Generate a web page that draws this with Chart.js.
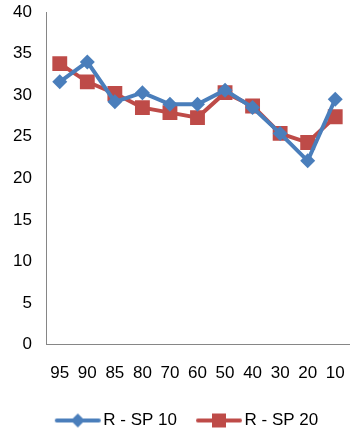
<!DOCTYPE html>
<html>
<head>
<meta charset="utf-8">
<script src="https://cdn.jsdelivr.net/npm/chart.js@4/dist/chart.umd.min.js"></script>
<style>
  html, body { margin: 0; padding: 0; background: #fff; }
  #wrap { position: relative; width: 352px; height: 434px; }
</style>
</head>
<body>
<div id="wrap"><canvas id="chart"></canvas></div>
<script>
const categories = ["95", "90", "85", "80", "70", "60", "50", "40", "30", "20", "10"];
const sp10 = [31.6, 34.0, 29.2, 30.3, 28.9, 28.9, 30.6, 28.5, 25.4, 22.1, 29.5];
const sp20 = [33.8, 31.6, 30.2, 28.5, 27.9, 27.3, 30.3, 28.7, 25.4, 24.3, 27.4];
const seriesNames = ["R - SP 10", "R - SP 20"];

const blue = "#4a7ebb";
const red = "#be4b48";

// legend swatch: a short line with the marker on it (shifted right so it sits close to the text)
function swatch(color, shape) {
  const c = document.createElement("canvas");
  c.width = 60;
  c.height = 16;
  const ctx = c.getContext("2d");
  ctx.strokeStyle = color;
  ctx.lineWidth = 4;
  ctx.lineCap = "round";
  ctx.beginPath();
  ctx.moveTo(14, 8);
  ctx.lineTo(56, 8);
  ctx.stroke();
  ctx.fillStyle = color;
  ctx.beginPath();
  if (shape === "diamond") {
    ctx.moveTo(35, 1);
    ctx.lineTo(42, 8);
    ctx.lineTo(35, 15);
    ctx.lineTo(28, 8);
    ctx.closePath();
  } else {
    ctx.rect(28, 1, 14, 14);
  }
  ctx.fill();
  return c;
}

const swatches = [swatch(blue, "diamond"), swatch(red, "square")];

// nudge the legend row a little to the right, like the original
const legendShift = {
  id: "legendShift",
  afterLayout(chart) {
    chart.legend.left += 8;
    chart.legend.right += 8;
  }
};

// invisible tick marks give the label gap without padding the chart area
const hiddenTicks = { display: true, drawOnChartArea: false, drawTicks: true, color: "transparent", tickColor: "transparent" };

new Chart(document.getElementById("chart"), {
  type: "line",
  data: {
    labels: categories,
    datasets: [
      {
        label: seriesNames[0],
        data: sp10,
        borderColor: blue,
        backgroundColor: blue,
        borderWidth: 4,
        pointStyle: "rectRot",
        pointRadius: 7.5,
        pointHoverRadius: 7.5,
        pointBorderWidth: 0,
        tension: 0
      },
      {
        label: seriesNames[1],
        data: sp20,
        borderColor: red,
        backgroundColor: red,
        borderWidth: 4,
        pointStyle: "rect",
        pointRadius: 10.5,
        pointHoverRadius: 10.5,
        pointBorderWidth: 0,
        tension: 0
      }
    ]
  },
  options: {
    responsive: true,
    maintainAspectRatio: false,
    animation: false,
    layout: { autoPadding: false, padding: { top: 12, right: 3, left: 4, bottom: -5 } },
    plugins: {
      tooltip: { enabled: false },
      legend: {
        position: "bottom",
        labels: {
          usePointStyle: true,
          pointStyleWidth: 44,
          padding: 15,
          color: "#000",
          font: { family: "Liberation Sans", size: 17 },
          generateLabels: (chart) =>
            chart.data.datasets.map((ds, i) => ({
              text: ds.label,
              pointStyle: swatches[i],
              fillStyle: ds.borderColor,
              strokeStyle: ds.borderColor,
              lineWidth: 0,
              fontColor: "#000",
              datasetIndex: i
            }))
        }
      }
    },
    scales: {
      x: {
        offset: true,
        grid: { ...hiddenTicks, tickLength: 19 },
        border: { display: true, color: "#868686", width: 1 },
        afterFit: (scale) => { scale.height += 13; },
        ticks: {
          color: "#000",
          padding: 0,
          maxRotation: 0,
          autoSkip: false,
          font: { family: "Liberation Sans", size: 17 }
        }
      },
      y: {
        min: 0,
        max: 40,
        grid: { ...hiddenTicks, tickLength: 14 },
        border: { display: true, color: "#868686", width: 1 },
        afterFit: (scale) => { scale.width = 42; },
        ticks: {
          stepSize: 5,
          color: "#000",
          padding: 0,
          font: { family: "Liberation Sans", size: 17 }
        }
      }
    }
  },
  plugins: [legendShift]
});
</script>
</body>
</html>
